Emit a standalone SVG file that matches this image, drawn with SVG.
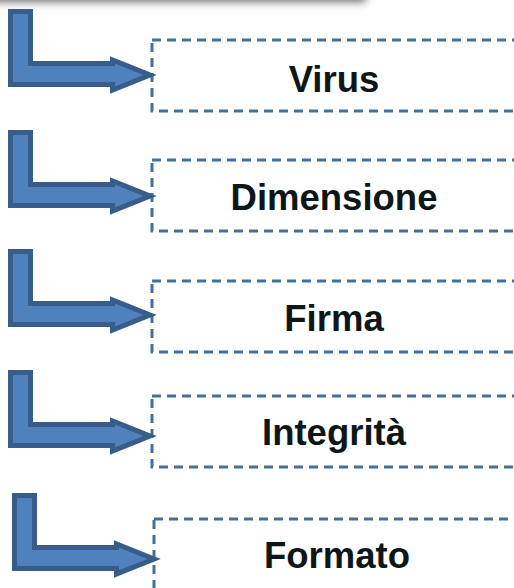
<svg xmlns="http://www.w3.org/2000/svg" width="514" height="588" viewBox="0 0 514 588">
  <style>
    .arrow { fill: #4F81BD; stroke: #385D8A; stroke-width: 5; stroke-linejoin: miter; stroke-miterlimit: 10; }
    .box { fill: none; stroke: #41719C; stroke-width: 3; stroke-dasharray: 9 6; }
    .label { font-family: "Liberation Sans", Arial, sans-serif; font-weight: bold; font-size: 36.5px; fill: #0D1717; text-anchor: middle; }
  </style>
  <defs>
    <filter id="shadowBlur" x="-20%" y="-200%" width="140%" height="500%">
      <feGaussianBlur stdDeviation="4"/>
    </filter>
    <polygon id="bentArrow" class="arrow" points="10.5,11.5 30.5,11.5 30.5,63.5 112.5,63.5 112.5,60 150,75 112.5,90 112.5,84.5 10.5,84.5"/>
  </defs>
  <rect width="514" height="588" fill="#FFFFFF"/>
  <rect x="-30" y="-24" width="396" height="26" fill="#6E6E6E" filter="url(#shadowBlur)"/>

  <g id="node-virus">
    <rect class="box" x="152" y="40" width="400" height="71"/>
    <text class="label" x="334" y="92">Virus</text>
  </g>
  <g id="node-dimensione">
    <rect class="box" x="152" y="160" width="400" height="71"/>
    <text class="label" x="334" y="210">Dimensione</text>
  </g>
  <g id="node-firma">
    <rect class="box" x="152" y="281" width="400" height="71"/>
    <text class="label" x="334" y="331">Firma</text>
  </g>
  <g id="node-integrita">
    <rect class="box" x="152" y="396" width="400" height="71"/>
    <text class="label" x="334" y="445">Integrità</text>
  </g>
  <g id="node-formato">
    <rect class="box" x="154" y="519" width="400" height="100"/>
    <text class="label" x="337" y="568">Formato</text>
  </g>

  <g id="connectors">
    <use href="#bentArrow" transform="translate(0,0)"/>
    <use href="#bentArrow" transform="translate(0,121)"/>
    <use href="#bentArrow" transform="translate(0,240)"/>
    <use href="#bentArrow" transform="translate(0,361)"/>
    <use href="#bentArrow" transform="translate(4,484)"/>
  </g>
</svg>
